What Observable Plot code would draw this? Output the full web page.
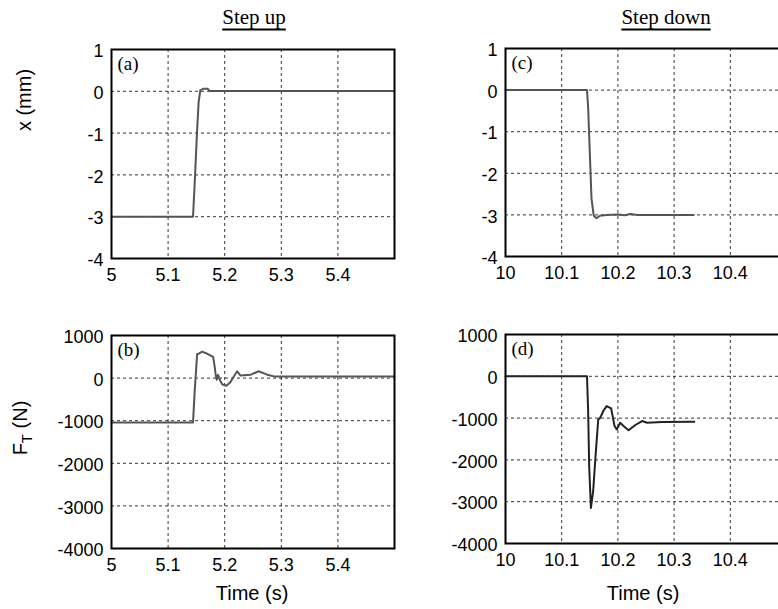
<!DOCTYPE html>
<html><head><meta charset="utf-8">
<script src="https://cdn.jsdelivr.net/npm/d3@7"></script>
<script src="https://cdn.jsdelivr.net/npm/@observablehq/plot@0.6"></script>
<style>
html,body{margin:0;padding:0;overflow:hidden;background:#fff;}
#wrap{position:relative;width:778px;height:609px;overflow:hidden;background:#fff;}
.pl{position:absolute;}
.title{position:absolute;font-family:"Liberation Serif","Times New Roman",serif;font-size:21px;text-decoration:underline;text-underline-offset:5px;text-decoration-thickness:1.5px;transform:translate(-50%,-50%);white-space:nowrap;color:#000;}
.alab{position:absolute;font-family:"Liberation Sans",Arial,sans-serif;font-size:20px;white-space:nowrap;color:#000;transform:translate(-50%,-50%);}
.rot{transform:translate(-50%,-50%) rotate(-90deg);}
.rot sub{font-size:15px;}
</style></head><body><div id="wrap"></div>
<script>
// ---- data ----
// (a) step up, position x (mm)
const tA = [5, 5.144, 5.147, 5.151, 5.154, 5.157, 5.162, 5.170, 5.173, 5.5];
const xA = [-3, -3, -2.2, -1.0, -0.25, 0.03, 0.06, 0.06, 0.01, 0.01];
// (b) step up, force F_T (N)
const tB = [5, 5.144, 5.147, 5.1513, 5.155, 5.160, 5.166, 5.172, 5.1795, 5.182, 5.184, 5.186, 5.188, 5.192, 5.196, 5.203, 5.210, 5.218, 5.222, 5.228, 5.246, 5.260, 5.275, 5.287, 5.5];
const fB = [-1040, -1040, -300, 560, 580, 620, 590, 550, 500, 300, 80, -40, 80, -60, -150, -180, -100, 80, 160, 60, 80, 160, 80, 40, 40];
// (c) step down, position x (mm)
const tC = [10, 10.145, 10.147, 10.150, 10.153, 10.157, 10.162, 10.168, 10.180, 10.200, 10.212, 10.222, 10.235, 10.335];
const xC = [0, 0, -0.4, -1.5, -2.6, -3.02, -3.08, -3.02, -3.0, -2.99, -3.01, -2.98, -3.0, -3.0];
// (d) step down, force F_T (N)
const tD = [10, 10.145, 10.147, 10.149, 10.152, 10.156, 10.160, 10.165, 10.168, 10.170, 10.174, 10.180, 10.188, 10.194, 10.198, 10.204, 10.210, 10.219, 10.231, 10.243, 10.252, 10.279, 10.336];
const fD = [0, 0, -800, -2200, -3150, -2740, -1950, -1030, -1000, -950, -830, -714, -770, -1190, -1270, -1110, -1190, -1290, -1165, -1070, -1110, -1095, -1090];

// tick labels
const xTicksUp = [5, 5.1, 5.2, 5.3, 5.4];
const xTicksDown = [10, 10.1, 10.2, 10.3, 10.4];
const yTicksX = [-4, -3, -2, -1, 0, 1];
const yTicksF = [-4000, -3000, -2000, -1000, 0, 1000];
const panelLabels = ["(a)", "(b)", "(c)", "(d)"];
const titles = ["Step up", "Step down"];

const wrap = document.getElementById("wrap");
const mL = 70, mT = 6, mB = 36, mR = 6;

function panel({left, top, w, h, t, v, xDomain, yDomain, xTicks, yTicks, label, stroke}) {
  const data = t.map((d, i) => ({t: d, v: v[i]}));
  const fmt = d => String(d);
  const chart = Plot.plot({
    width: mL + w + mR,
    height: mT + h + mB,
    marginLeft: mL, marginRight: mR, marginTop: mT, marginBottom: mB,
    style: {fontFamily: "'Liberation Sans', Arial, sans-serif", fontSize: "18px", color: "#000", background: "transparent", overflow: "visible"},
    x: {domain: xDomain},
    y: {domain: yDomain},
    marks: [
      Plot.gridX(xTicks.slice(1), {stroke: "#000", strokeOpacity: 1, strokeWidth: 0.8, strokeDasharray: "3,3"}),
      Plot.gridY(yTicks.slice(1, -1), {stroke: "#000", strokeOpacity: 1, strokeWidth: 0.8, strokeDasharray: "3,3"}),
      Plot.axisX({ticks: xTicks, tickSize: 0, tickPadding: 10, tickFormat: fmt, label: null}),
      Plot.axisY({ticks: yTicks, tickSize: 0, tickPadding: 8, dy: 2, tickFormat: fmt, label: null}),
      Plot.line(data, {x: "t", y: "v", stroke, strokeWidth: 2}),
      Plot.text([label], {text: d => d, frameAnchor: "top-left", dx: 6, dy: 7, textAnchor: "start", lineAnchor: "top", fontFamily: "'Liberation Serif', 'Times New Roman', serif", fontSize: 19, fill: "#000"}),
      Plot.frame({stroke: "#000", strokeWidth: 2})
    ]
  });
  chart.classList.add("pl");
  chart.style.left = (left - mL) + "px";
  chart.style.top = (top - mT) + "px";
  wrap.appendChild(chart);
}

panel({left: 111, top: 49, w: 283, h: 209, t: tA, v: xA, xDomain: [5, 5.5], yDomain: [-4, 1], xTicks: xTicksUp, yTicks: yTicksX, label: panelLabels[0], stroke: "#555"});
panel({left: 111, top: 335, w: 283, h: 213, t: tB, v: fB, xDomain: [5, 5.5], yDomain: [-4000, 1000], xTicks: xTicksUp, yTicks: yTicksF, label: panelLabels[1], stroke: "#555"});
panel({left: 505, top: 48, w: 281, h: 208, t: tC, v: xC, xDomain: [10, 10.5], yDomain: [-4, 1], xTicks: xTicksDown, yTicks: yTicksX, label: panelLabels[2], stroke: "#555"});
panel({left: 505, top: 334, w: 281, h: 209, t: tD, v: fD, xDomain: [10, 10.5], yDomain: [-4000, 1000], xTicks: xTicksDown, yTicks: yTicksF, label: panelLabels[3], stroke: "#222"});

function addDiv(cls, html, x, y) {
  const d = document.createElement("div");
  d.className = cls;
  d.innerHTML = html;
  d.style.left = x + "px";
  d.style.top = y + "px";
  wrap.appendChild(d);
}
addDiv("title", titles[0], 254, 17);
addDiv("title", titles[1], 666, 17);
addDiv("alab rot", "x (mm)", 24, 100);
addDiv("alab rot", "F<sub>T</sub> (N)", 22, 428);
addDiv("alab", "Time (s)", 252, 593);
addDiv("alab", "Time (s)", 643, 593);
</script>
</body></html>
